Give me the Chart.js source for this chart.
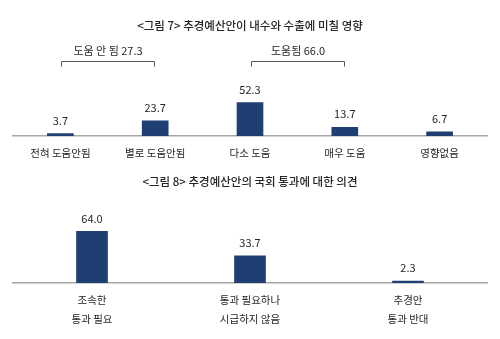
<!DOCTYPE html>
<html>
<head>
<meta charset="utf-8">
<script src="https://cdn.jsdelivr.net/npm/chart.js@4.4.1/dist/chart.umd.min.js"></script>
<style>
  html, body { margin: 0; padding: 0; background: #fff; }
  #wrap { position: relative; width: 500px; height: 339px; }
  .box { position: absolute; left: 0; width: 500px; }
  #top { top: 0; height: 170px; }
  #bottom { top: 170px; height: 169px; }
</style>
</head>
<body>
<div id="wrap">
  <div class="box" id="top"><canvas id="impact"></canvas></div>
  <div class="box" id="bottom"><canvas id="passage"></canvas></div>
</div>
<script>
// 그림 7 data
const impactTitle = '<그림 7> 추경예산안이 내수와 수출에 미칠 영향';
const impactLabels = ['전혀 도움안됨', '별로 도움안됨', '다소 도움', '매우 도움', '영향없음'];
const impactValues = [3.7, 23.7, 52.3, 13.7, 6.7];
// brackets grouping the answers
const groupTexts = ['도움 안 됨 27.3', '도움됨 66.0'];
const groupFrom = [0, 2];
const groupTo = [1, 3];

// 그림 8 data
const passageTitle = '<그림 8> 추경예산안의 국회 통과에 대한 의견';
const passageLabels = [['조속한', '통과 필요'], ['통과 필요하나', '시급하지 않음'], ['추경안', '통과 반대']];
const passageValues = [64.0, 33.7, 2.3];

const FONT = "'Noto Sans CJK KR', 'Noto Sans', sans-serif";
const BAR = '#1f3f72';
const AXIS = '#a6a6a6';
const TEXT = '#262626';

// numbers above each bar
const valueLabels = {
  id: 'valueLabels',
  afterDatasetsDraw(chart) {
    const ctx = chart.ctx;
    const meta = chart.getDatasetMeta(0);
    ctx.save();
    ctx.font = '11px ' + FONT;
    ctx.fillStyle = TEXT;
    ctx.textAlign = 'center';
    ctx.textBaseline = 'middle';
    meta.data.forEach((bar, i) => {
      const v = chart.data.datasets[0].data[i];
      ctx.fillText(v.toFixed(1), bar.x, bar.y - 13);
    });
    ctx.restore();
  }
};

// bracket lines over grouped categories
const brackets = {
  id: 'brackets',
  afterDraw(chart, args, opts) {
    if (!opts.texts) return;
    const ctx = chart.ctx;
    const x = chart.scales.x;
    ctx.save();
    ctx.strokeStyle = '#555';
    ctx.lineWidth = 1;
    ctx.font = '11px ' + FONT;
    ctx.fillStyle = TEXT;
    ctx.textAlign = 'center';
    ctx.textBaseline = 'middle';
    opts.texts.forEach((t, i) => {
      const x1 = Math.round(x.getPixelForValue(opts.from[i])) + 1.5;
      const x2 = Math.round(x.getPixelForValue(opts.to[i])) - 0.5;
      const y = opts.y + 0.5;
      ctx.beginPath();
      ctx.moveTo(x1, y + 5);
      ctx.lineTo(x1, y);
      ctx.lineTo(x2, y);
      ctx.lineTo(x2, y + 5);
      ctx.stroke();
      ctx.fillText(t, (x1 + x2) / 2, opts.y - 10);
    });
    ctx.restore();
  }
};

function makeChart(id, title, labels, values, cfg) {
  return new Chart(document.getElementById(id), {
    type: 'bar',
    data: {
      labels: labels,
      datasets: [{
        data: values,
        backgroundColor: BAR,
        barThickness: cfg.barWidth
      }]
    },
    options: {
      responsive: true,
      maintainAspectRatio: false,
      animation: false,
      layout: { padding: { left: 13, right: 13, top: cfg.padTop, bottom: 0 } },
      plugins: {
        legend: { display: false },
        tooltip: { enabled: false },
        title: {
          display: true,
          text: title,
          color: TEXT,
          font: { family: FONT, size: 11.5, weight: '500' },
          padding: { top: 0, bottom: cfg.titleGap }
        },
        brackets: cfg.brackets || {}
      },
      scales: {
        x: {
          grid: { display: false, drawTicks: false },
          border: { display: true, color: AXIS, width: 1.5 },
          ticks: {
            color: TEXT,
            font: { family: FONT, size: 10.5, lineHeight: 1.8 },
            padding: 7.5,
            maxRotation: 0,
            autoSkip: false
          },
          // fixed band under the axis for the category names
          afterFit(scale) { scale.height = cfg.axisBand; }
        },
        y: {
          display: false,
          min: 0,
          max: cfg.yMax
        }
      }
    },
    plugins: [valueLabels, brackets]
  });
}

makeChart('impact', impactTitle, impactLabels, impactValues, {
  barWidth: 26,
  padTop: 19,
  titleGap: 17,
  axisBand: 34,
  yMax: 135,
  brackets: { texts: groupTexts, from: groupFrom, to: groupTo, y: 61 }
});

makeChart('passage', passageTitle, passageLabels, passageValues, {
  barWidth: 31,
  padTop: 5,
  titleGap: 20,
  axisBand: 56,
  yMax: 92
});
</script>
</body>
</html>
